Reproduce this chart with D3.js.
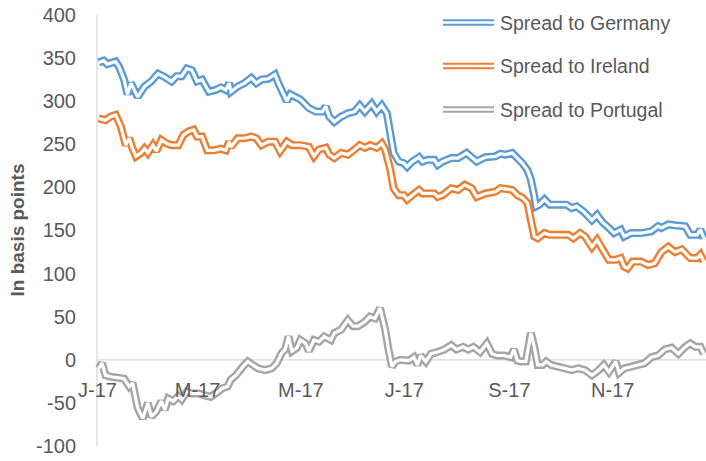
<!DOCTYPE html>
<html>
<head>
<meta charset="utf-8">
<script src="https://cdn.jsdelivr.net/npm/d3@7/dist/d3.min.js"></script>
<style>
  html, body { margin: 0; padding: 0; background: #fff; }
  svg { display: block; font-family: "Liberation Sans", Arial, sans-serif; }
</style>
</head>
<body>
<svg id="chart" width="706" height="461"></svg>
<script>
// Sovereign bond spreads, 2017 (basis points). Days are day-of-year offsets from 1 Jan 2017.
const seriesNames = ["Spread to Germany", "Spread to Ireland", "Spread to Portugal"];
const seriesColors = ["#5B9BD5", "#ED7D31", "#A5A5A5"];

const germanyDays = [1,4,6,11,13,16,18,20,24,28,32,36,39,44,47,50,53,56,59,62,66,70,73,76,78,79,83,87,91,94,97,101,105,107,112,114,117,120,
  125,129,133,135,137,140,144,148,152,155,158,162,165,168,171,173,175,178,181,183,186,190,192,195,199,201,204,209,213,218,221,224,229,235,238,
  241,245,248,251,254,256,258,259,261,264,267,271,274,277,280,283,287,292,295,298,302,305,309,311,315,321,327,331,333,337,341,347,350,354,356,358];
const germanyValues = [345,347,343,346,340,325,308,321,305,317,323,332,329,323,329,329,338,336,323,325,311,313,316,313,321,311,317,321,327,321,325,326,331,321,300,308,305,302,
  292,288,288,294,282,276,282,286,288,295,288,297,288,295,286,263,240,230,228,224,230,235,230,232,232,226,230,234,234,240,235,230,235,236,239,
  238,240,234,228,220,209,190,178,180,186,180,180,180,180,176,178,172,162,168,160,153,147,151,143,147,147,149,155,153,157,156,155,145,145,151,141];

const irelandDays = [1,5,8,11,14,17,19,21,23,26,28,30,33,35,38,41,44,48,51,54,57,59,62,65,69,73,76,78,79,83,87,91,94,97,101,105,108,112,115,120,
  125,128,131,135,137,140,144,148,152,155,158,161,165,168,170,173,175,178,181,183,186,190,192,195,199,201,204,209,213,217,221,224,229,235,238,
  242,245,248,251,254,256,258,260,264,267,271,274,278,281,285,288,292,295,298,302,306,309,311,313,316,321,325,329,333,337,341,345,350,354,356,358];
const irelandValues = [280,278,282,284,271,249,257,245,236,240,245,240,249,242,255,251,249,249,261,265,267,259,259,243,243,245,243,253,247,257,257,259,257,249,253,253,242,253,249,249,
  247,236,244,246,238,234,240,238,244,249,246,249,246,251,244,221,199,191,191,186,191,197,193,193,193,189,191,199,197,203,199,189,193,195,199,
  198,197,191,188,182,162,143,141,147,145,145,145,145,141,147,143,131,139,129,116,116,118,108,106,114,114,110,112,125,131,125,128,118,118,122,114];

const portugalDays = [1,3,5,9,13,16,19,21,24,27,30,32,35,38,40,42,45,48,50,53,56,60,63,67,70,74,77,79,82,86,89,92,95,99,103,106,109,111,113,115,
  118,120,123,125,128,131,134,138,140,144,148,151,154,158,161,164,167,170,172,174,176,179,
  184,187,189,191,194,197,201,205,209,212,216,219,222,226,230,233,236,240,244,246,248,250,253,256,258,260,263,265,268,272,
  276,280,284,288,292,296,299,302,306,308,311,315,319,323,327,331,335,339,343,347,350,353,356,358];
const portugalValues = [-10,-4,-18,-20,-21,-22,-31,-27,-56,-68,-50,-66,-60,-48,-58,-45,-48,-42,-46,-37,-39,-39,-41,-43,-39,-33,-31,-23,-18,-8,-2,-6,-10,-12,-10,-4,8,12,27,10,
  14,23,19,10,23,21,27,23,31,35,46,39,39,44,50,48,60,35,12,-8,-2,0,
  -1,3,-6,5,-2,7,9,12,17,12,15,12,15,9,19,7,5,5,3,12,-1,-2,-2,31,15,-6,-6,-2,-6,-8,
  -10,-12,-10,-12,-18,-12,-6,-14,-2,-15,-10,-8,-6,-4,3,5,12,14,7,15,19,15,15,7];

const tickDays = [0, 59, 120, 181, 243, 304];
const tickLabels = ["J-17", "M-17", "M-17", "J-17", "S-17", "N-17"];
const yTicks = [-100, -50, 0, 50, 100, 150, 200, 250, 300, 350, 400];
const yTitle = "In basis points";

const dayToDate = d => new Date(2017, 0, 1 + d);

const svg = d3.select("#chart");
const textColor = "#595959";
const gridColor = "#D9D9D9";

const x = d3.scaleTime()
  .domain([dayToDate(0), dayToDate(364)])
  .range([97, 97 + 364 * 1.695]);
const y = d3.scaleLinear().domain([-100, 400]).range([446, 15]);

// vertical axis line
svg.append("line")
  .attr("x1", 97).attr("x2", 97)
  .attr("y1", y(400)).attr("y2", y(-100))
  .attr("stroke", gridColor).attr("stroke-width", 1.3);

// horizontal zero line
svg.append("line")
  .attr("x1", 97).attr("x2", 706)
  .attr("y1", y(0)).attr("y2", y(0))
  .attr("stroke", gridColor).attr("stroke-width", 1.3);

// y axis labels (plain hyphen for negatives)
const yAxis = d3.axisLeft(y).tickValues(yTicks).tickSize(0).tickPadding(21).tickFormat(d => String(d));
const gy = svg.append("g").attr("transform", "translate(97,0)").call(yAxis);
gy.select(".domain").remove();
gy.selectAll("text").attr("fill", textColor).style("font-size", "20px")
  .style("font-family", "'Liberation Sans', Arial, sans-serif");

// series as double lines (coloured outer stroke with a white core)
const series = [
  { days: germanyDays, values: germanyValues },
  { days: irelandDays, values: irelandValues },
  { days: portugalDays, values: portugalValues }
];
const line = d3.line()
  .x(d => x(dayToDate(d[0])))
  .y(d => y(d[1]));

const plot = svg.append("g");
series.forEach((s, i) => {
  const pts = s.days.map((d, j) => [d, s.values[j]]);
  const g = plot.append("g");
  g.append("path").datum(pts).attr("d", line)
    .attr("fill", "none").attr("stroke", seriesColors[i]).attr("stroke-width", 8)
    .attr("stroke-linejoin", "miter").attr("stroke-miterlimit", 2);
  g.append("path").datum(pts).attr("d", line)
    .attr("fill", "none").attr("stroke", "#fff").attr("stroke-width", 3.2)
    .attr("stroke-linejoin", "miter").attr("stroke-miterlimit", 2);
});

// category labels sitting under the zero line
const xAxis = d3.axisBottom(x)
  .tickValues(tickDays.map(dayToDate))
  .tickSize(0).tickPadding(23)
  .tickFormat((d, i) => tickLabels[i]);
const gx = svg.append("g").attr("transform", `translate(0,${y(0)})`).call(xAxis);
gx.select(".domain").remove();
gx.selectAll("text").attr("fill", textColor).style("font-size", "20px")
  .style("font-family", "'Liberation Sans', Arial, sans-serif");

// y axis title
svg.append("text")
  .attr("transform", "translate(24,230) rotate(-90)")
  .attr("text-anchor", "middle")
  .attr("fill", textColor)
  .style("font-size", "19px").style("font-weight", "bold")
  .text(yTitle);

// legend
const legend = svg.append("g");
seriesNames.forEach((name, i) => {
  const ly = 22.5 + i * 43.5;
  legend.append("line").attr("x1", 443).attr("x2", 494).attr("y1", ly).attr("y2", ly)
    .attr("stroke", seriesColors[i]).attr("stroke-width", 6.5);
  legend.append("line").attr("x1", 443).attr("x2", 494).attr("y1", ly).attr("y2", ly)
    .attr("stroke", "#fff").attr("stroke-width", 2.6);
  legend.append("text").attr("x", 500).attr("y", ly).attr("dy", "0.36em")
    .attr("fill", textColor).style("font-size", "19.5px").text(name);
});
</script>
</body>
</html>
